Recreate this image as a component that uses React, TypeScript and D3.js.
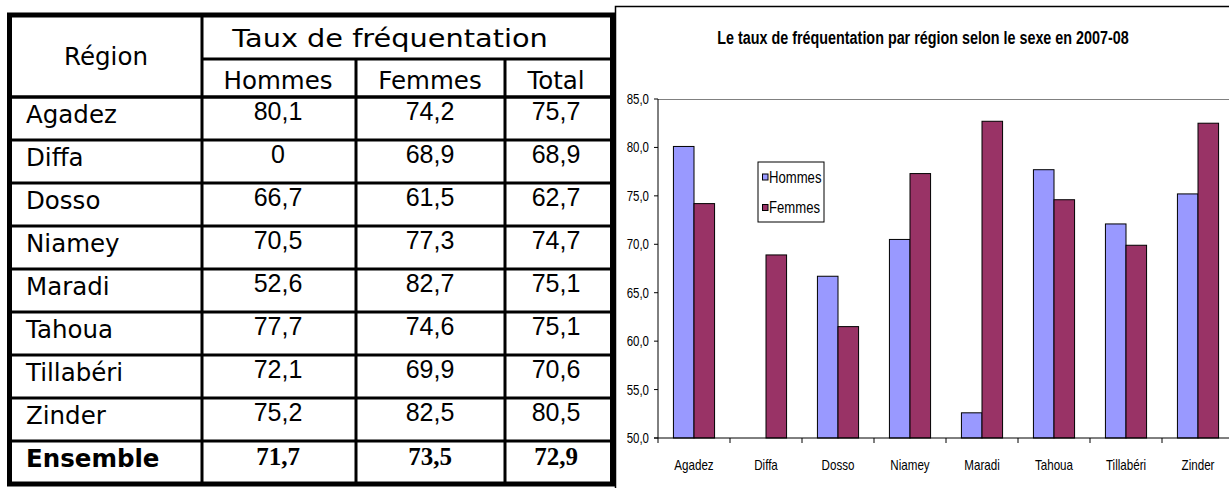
import React from "react";
import * as d3 from "d3";

const regions = ["Agadez", "Diffa", "Dosso", "Niamey", "Maradi", "Tahoua", "Tillabéri", "Zinder"];
const hommes = [80.1, 0, 66.7, 70.5, 52.6, 77.7, 72.1, 75.2];
const femmes = [74.2, 68.9, 61.5, 77.3, 82.7, 74.6, 69.9, 82.5];
const totals = [75.7, 68.9, 62.7, 74.7, 75.1, 75.1, 70.6, 80.5];
const ensembleLabel = "Ensemble";
const ensembleValues = [71.7, 73.5, 72.9];
const seriesNames = ["Hommes", "Femmes"];
const seriesColors = ["#9999FF", "#993366"];
const yTicks = [50, 55, 60, 65, 70, 75, 80, 85];
const chartTitle = "Le taux de fréquentation par région selon le sexe en 2007-08";
const tableHeader = "Taux de fréquentation";
const regionHeader = "Région";
const colHeaders = ["Hommes", "Femmes", "Total"];

const fmt = (v: number) => (v === 0 ? "0" : d3.format(".1f")(v).replace(".", ","));

const NAME_FONT = "'DejaVu Sans', Verdana, sans-serif";
const NUM_FONT = "'Liberation Sans', Arial, sans-serif";
const SERIF = "'Liberation Serif', 'Times New Roman', serif";
const NARROW = "'Liberation Sans', Arial, sans-serif";

type STextProps = {
  x: number;
  y: number;
  sx: number;
  anchor?: "start" | "middle" | "end";
  font: string;
  size: number;
  bold?: boolean;
  children: React.ReactNode;
};

function SText({ x, y, sx, anchor = "start", font, size, bold, children }: STextProps) {
  return (
    <text
      transform={`translate(${x},${y}) scale(${sx},1)`}
      textAnchor={anchor}
      fontFamily={font}
      fontSize={size}
      fontWeight={bold ? "bold" : "normal"}
    >
      {children}
    </text>
  );
}

function Table() {
  const left = 9.5, right = 612.5, top = 15, bottom = 484;
  const colX = [202, 356, 505];
  const headerMid = 59, headerBottom = 97;
  const rowH = (bottom - headerBottom) / 9;
  const colCenters = [278, 430, 556];
  const rows = regions.map((r, i) => ({ name: r, vals: [hommes[i], femmes[i], totals[i]] }));
  return (
    <g>
      <line x1={colX[0]} x2={colX[0]} y1={top} y2={bottom} stroke="#000" strokeWidth={3} />
      <line x1={colX[0]} x2={right} y1={headerMid} y2={headerMid} stroke="#000" strokeWidth={3} />
      <line x1={colX[1]} x2={colX[1]} y1={headerMid} y2={bottom} stroke="#000" strokeWidth={3} />
      <line x1={colX[2]} x2={colX[2]} y1={headerMid} y2={bottom} stroke="#000" strokeWidth={3} />
      {d3.range(9).map((i) => (
        <line key={i} x1={left} x2={right} y1={headerBottom + i * rowH} y2={headerBottom + i * rowH} stroke="#000" strokeWidth={i === 0 ? 3.5 : 3} />
      ))}
      <rect x={left} y={top} width={right - left} height={bottom - top} fill="none" stroke="#000" strokeWidth={5} />
      <SText x={106} y={65} sx={1} anchor="middle" font={NAME_FONT} size={24.5}>{regionHeader}</SText>
      <SText x={390} y={46.5} sx={1.13} anchor="middle" font={NAME_FONT} size={25.5}>{tableHeader}</SText>
      {colHeaders.map((h, j) => (
        <SText key={h} x={colCenters[j]} y={89} sx={1} anchor="middle" font={NAME_FONT} size={24.5}>{h}</SText>
      ))}
      {rows.map((r, i) => {
        const y0 = headerBottom + i * rowH;
        return (
          <g key={r.name}>
            <SText x={26} y={y0 + 26} sx={1} font={NAME_FONT} size={24.5}>{r.name}</SText>
            {r.vals.map((v, j) => (
              <SText key={j} x={colCenters[j]} y={y0 + 23} sx={1} anchor="middle" font={NUM_FONT} size={25}>{fmt(v)}</SText>
            ))}
          </g>
        );
      })}
      <SText x={26} y={headerBottom + 8 * rowH + 26} sx={1} font={NAME_FONT} bold size={24.5}>{ensembleLabel}</SText>
      {ensembleValues.map((v, j) => (
        <SText key={j} x={colCenters[j]} y={headerBottom + 8 * rowH + 24} sx={1} anchor="middle" font={SERIF} bold size={25}>{fmt(v)}</SText>
      ))}
    </g>
  );
}

function Chart() {
  const plotLeft = 658, plotTop = 99, plotBottom = 438;
  const bandW = 72;
  const x0 = d3.scaleBand<string>().domain(regions).range([plotLeft, plotLeft + bandW * regions.length]).padding(0);
  const bw = x0.bandwidth();
  const barW = bw / 3.5;
  const groupOff = (bw - 2 * barW) / 2;
  const x1 = d3.scaleBand<string>().domain(seriesNames).range([0, 2 * barW]).padding(0);
  const y = d3.scaleLinear().domain([50, 85]).range([plotBottom, plotTop]);
  const series = [hommes, femmes];
  const plotRight = plotLeft + bandW * regions.length;
  const NS = 0.82;
  return (
    <g>
      <rect x={615.5} y={6.5} width={800} height={600} fill="#fff" stroke="#000" strokeWidth={1.5} />
      <SText x={923} y={44} sx={NS} anchor="middle" font={NARROW} bold size={17.5}>{chartTitle}</SText>
      <line x1={plotLeft} x2={plotRight} y1={plotTop + 0.5} y2={plotTop + 0.5} stroke="#808080" strokeWidth={1} />
      {regions.map((r, i) =>
        series.map((s, k) => {
          const v = s[i];
          if (v <= 50) return null;
          const bx = (x0(r) as number) + groupOff + (x1(seriesNames[k]) as number);
          return (
            <rect key={r + k} x={bx} y={y(v)} width={barW} height={plotBottom - y(v)} fill={seriesColors[k]} stroke="#000" strokeWidth={1} />
          );
        })
      )}
      <line x1={plotLeft} x2={plotLeft} y1={plotTop} y2={plotBottom} stroke="#000" strokeWidth={1} />
      <line x1={plotLeft - 4} x2={plotRight} y1={plotBottom} y2={plotBottom} stroke="#000" strokeWidth={1} />
      {yTicks.map((t) => (
        <g key={t}>
          <line x1={plotLeft - 4} x2={plotLeft} y1={y(t)} y2={y(t)} stroke="#000" strokeWidth={1} />
          <SText x={649} y={y(t) + 5} sx={NS} anchor="end" font={NARROW} size={14}>{fmt(t)}</SText>
        </g>
      ))}
      {d3.range(regions.length + 1).map((i) => (
        <line key={i} x1={plotLeft + i * bw} x2={plotLeft + i * bw} y1={plotBottom} y2={plotBottom + 5} stroke="#000" strokeWidth={1} />
      ))}
      {regions.map((r) => (
        <SText key={r} x={(x0(r) as number) + bw / 2} y={470} sx={0.8} anchor="middle" font={NARROW} size={14.5}>{r}</SText>
      ))}
      <rect x={758} y={162} width={66} height={60} fill="#fff" stroke="#000" strokeWidth={1} />
      {seriesNames.map((n, k) => (
        <g key={n}>
          <rect x={762.5} y={174 + k * 30.5} width={5.5} height={6} fill={seriesColors[k]} stroke="#000" strokeWidth={1} />
          <SText x={769} y={182.5 + k * 30.5} sx={NS} font={NARROW} size={16}>{n}</SText>
        </g>
      ))}
    </g>
  );
}

export default function App() {
  return (
    <svg width={1229} height={488} style={{ position: "absolute", left: 0, top: 0, background: "#fff" }}>
      <rect x={0} y={0} width={1229} height={488} fill="#fff" />
      <Table />
      <Chart />
    </svg>
  );
}
